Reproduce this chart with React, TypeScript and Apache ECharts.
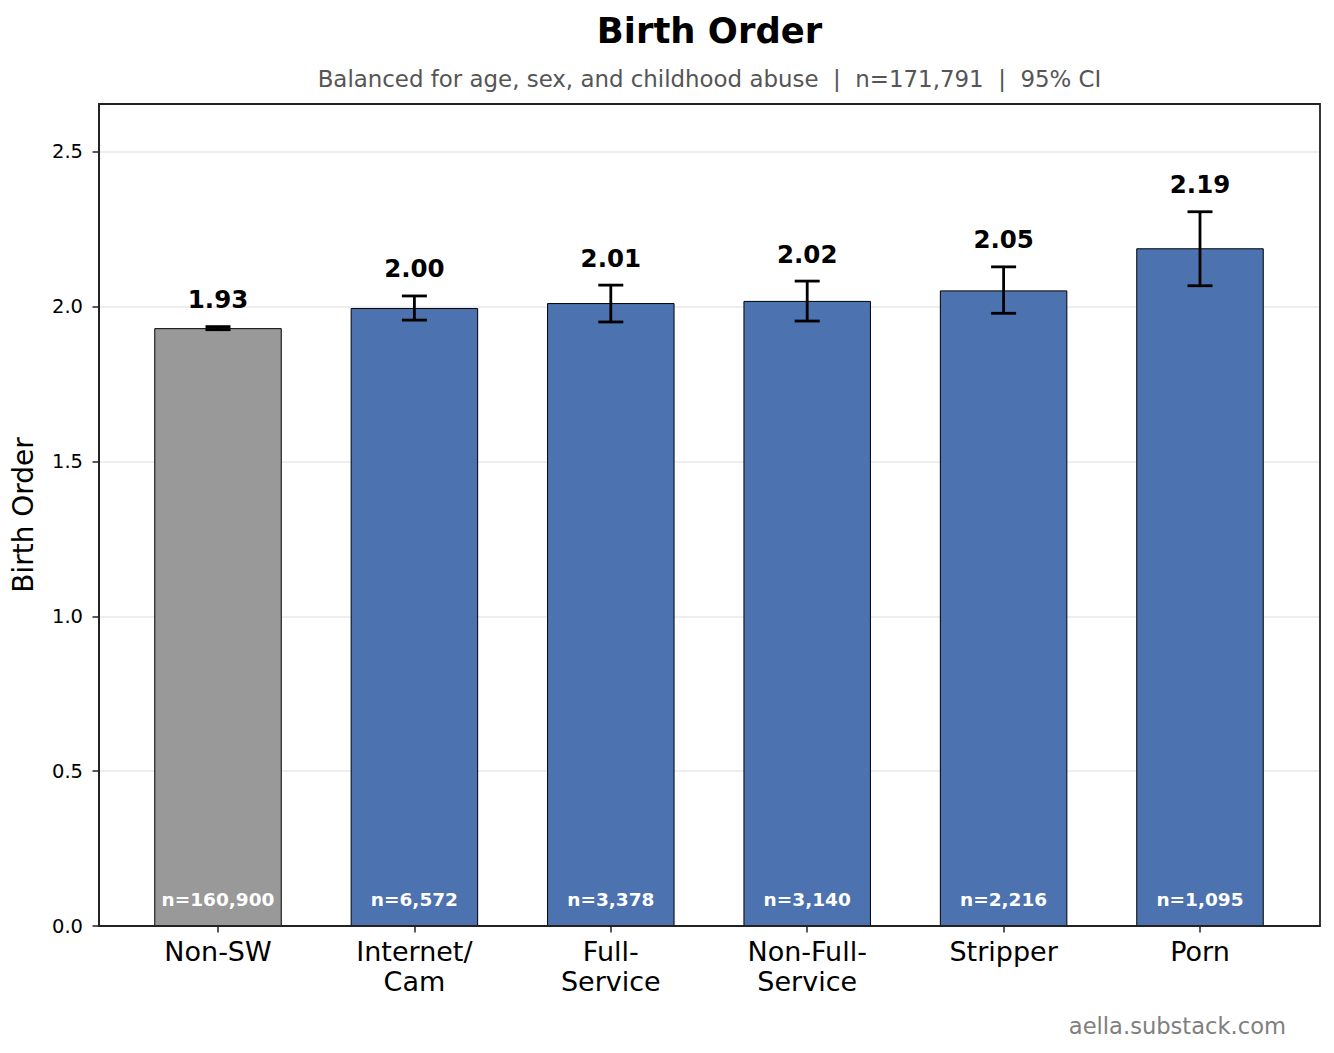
import React, { useEffect, useRef } from "react";
import * as echarts from "echarts";

const categories = ["Non-SW", "Internet/\nCam", "Full-\nService", "Non-Full-\nService", "Stripper", "Porn"];
const means = [1.931, 1.996, 2.012, 2.019, 2.053, 2.189];
const ciLow = [1.926, 1.957, 1.951, 1.954, 1.979, 2.068];
const ciHigh = [1.936, 2.035, 2.07, 2.083, 2.129, 2.307];
const valueLabels = ["1.93", "2.00", "2.01", "2.02", "2.05", "2.19"];
const nLabels = ["n=160,900", "n=6,572", "n=3,378", "n=3,140", "n=2,216", "n=1,095"];
const barColors = ["#999999", "#4c72b0", "#4c72b0", "#4c72b0", "#4c72b0", "#4c72b0"];
const yTicks = [0, 0.5, 1.0, 1.5, 2.0, 2.5];
const yMax = 2.655;

const FONT = "DejaVu Sans";

export default function App() {
  const ref = useRef<HTMLDivElement>(null);
  useEffect(() => {
    if (!ref.current) return;
    const chart = echarts.init(ref.current, null, { renderer: "svg" });
    const plotLeft = 99;
    const plotRight = 1320;
    const plotTop = 104;
    const plotBottom = 926;
    const band = 196.4;
    const firstCenter = 218;
    const g1Left = firstCenter - band / 2;
    const g1Width = band * categories.length;

    const option: any = {
      animation: false,
      backgroundColor: "#ffffff",
      textStyle: { fontFamily: FONT },
      grid: [
        {
          left: plotLeft,
          right: 1334 - plotRight,
          top: plotTop,
          bottom: 1053 - plotBottom,
          show: true,
          borderColor: "#222222",
          borderWidth: 1.8,
          backgroundColor: "transparent",
          outerBoundsMode: "none",
          containLabel: false,
          z: 5,
        },
        {
          left: g1Left,
          width: g1Width,
          top: plotTop,
          bottom: 1053 - plotBottom,
          outerBoundsMode: "none",
          containLabel: false,
        },
      ],
      xAxis: [
        {
          gridIndex: 0,
          type: "value",
          min: 0,
          max: 1,
          show: false,
        },
        {
          gridIndex: 1,
          type: "category",
          data: categories,
          axisLine: { show: false },
          axisTick: { show: true, alignWithLabel: true, length: 6.5, lineStyle: { color: "#222", width: 1.5 } },
          axisLabel: {
            interval: 0,
            margin: 10,
            color: "#000",
            fontSize: 27,
            lineHeight: 30,
            fontFamily: FONT,
          },
          splitLine: { show: false },
        },
      ],
      yAxis: [
        {
          gridIndex: 0,
          type: "value",
          min: 0,
          max: yMax,
          name: "Birth Order",
          nameLocation: "middle",
          nameGap: 62,
          nameTextStyle: { fontSize: 28, color: "#000", fontFamily: FONT },
          axisLine: { show: true, lineStyle: { color: "#222", width: 1.8 } },
          axisTick: { show: true, customValues: yTicks, length: 6.5, lineStyle: { color: "#222", width: 1.5 } },
          axisLabel: {
            customValues: yTicks,
            formatter: (v: number) => v.toFixed(1),
            margin: 16,
            color: "#000",
            fontSize: 19.5,
            fontFamily: FONT,
          },
          splitLine: { show: true, lineStyle: { color: "#e9e9e9", width: 1.6 } },
        },
        {
          gridIndex: 1,
          type: "value",
          min: 0,
          max: yMax,
          show: false,
          splitLine: { show: false },
        },
      ],
      series: [
        {
          type: "bar",
          xAxisIndex: 1,
          yAxisIndex: 1,
          barWidth: 127.5,
          data: means.map((m, i) => ({
            value: m,
            itemStyle: { color: barColors[i], borderColor: "#000", borderWidth: 1 },
          })),
          z: 2,
        },
        {
          type: "custom",
          xAxisIndex: 1,
          yAxisIndex: 1,
          data: means.map((m, i) => [i, ciLow[i], ciHigh[i]]),
          encode: { x: 0, y: [1, 2] },
          z: 10,
          renderItem: (params: any, api: any) => {
            const i = params.dataIndex;
            const lo = api.coord([i, ciLow[i]]);
            const hi = api.coord([i, ciHigh[i]]);
            const base = api.coord([i, 0]);
            const x = lo[0];
            const cap = 12.5;
            const ls = { stroke: "#000", lineWidth: 2.8 };
            return {
              type: "group",
              children: [
                { type: "line", shape: { x1: x, y1: lo[1], x2: x, y2: hi[1] }, style: ls },
                { type: "line", shape: { x1: x - cap, y1: lo[1], x2: x + cap, y2: lo[1] }, style: ls },
                { type: "line", shape: { x1: x - cap, y1: hi[1], x2: x + cap, y2: hi[1] }, style: ls },
                {
                  type: "text",
                  x: x,
                  y: hi[1] - 27,
                  style: {
                    text: valueLabels[i],
                    fill: "#000",
                    font: `bold 24.5px '${FONT}'`,
                    textAlign: "center",
                    textVerticalAlign: "middle",
                  },
                },
                {
                  type: "text",
                  x: x,
                  y: base[1] - 27,
                  style: {
                    text: nLabels[i],
                    fill: "#ffffff",
                    font: `bold 18.5px '${FONT}'`,
                    textAlign: "center",
                    textVerticalAlign: "middle",
                  },
                },
              ],
            };
          },
        },
      ],
      graphic: [
        {
          type: "text",
          x: (plotLeft + plotRight) / 2,
          y: 30,
          style: {
            text: "Birth Order",
            fill: "#000",
            font: `bold 35.4px '${FONT}'`,
            textAlign: "center",
            textVerticalAlign: "middle",
          },
        },
        {
          type: "text",
          x: (plotLeft + plotRight) / 2,
          y: 79,
          style: {
            text: "Balanced for age, sex, and childhood abuse  |  n=171,791  |  95% CI",
            fill: "#555555",
            font: `22.9px '${FONT}'`,
            textAlign: "center",
            textVerticalAlign: "middle",
          },
        },
        {
          type: "text",
          x: 1286,
          y: 1026,
          style: {
            text: "aella.substack.com",
            fill: "#808080",
            font: `22.6px '${FONT}'`,
            textAlign: "right",
            textVerticalAlign: "middle",
          },
        },
      ],
    };
    chart.setOption(option);
    return () => chart.dispose();
  }, []);
  return (
    <div
      ref={ref}
      style={{ position: "fixed", left: 0, top: 0, width: 1334, height: 1053, background: "#fff" }}
    />
  );
}
